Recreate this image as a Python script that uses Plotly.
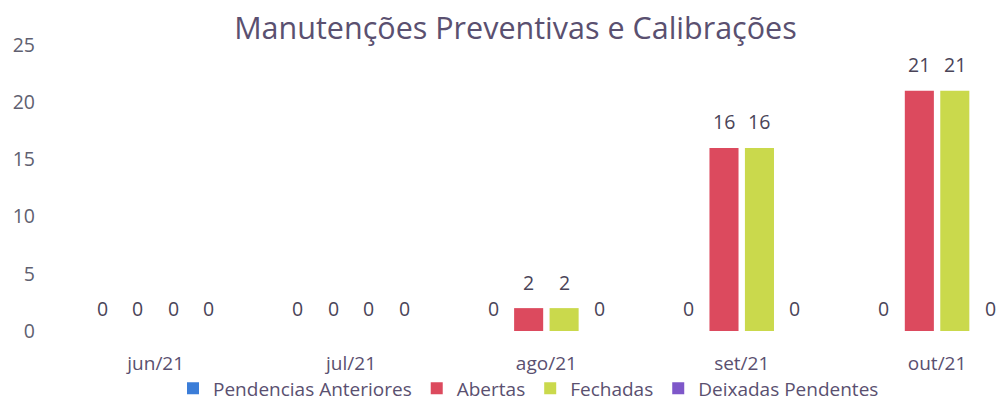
import plotly.graph_objects as go

categories = ["jun/21", "jul/21", "ago/21", "set/21", "out/21"]
series_names = ["Pendencias Anteriores", "Abertas", "Fechadas", "Deixadas Pendentes"]
pendencias = [0, 0, 0, 0, 0]
abertas = [0, 0, 2, 16, 21]
fechadas = [0, 0, 2, 16, 21]
deixadas = [0, 0, 0, 0, 0]
colors = ["#3b7dd8", "#dc4a5e", "#cad94c", "#7e57c9"]

values = [pendencias, abertas, fechadas, deixadas]

FONT = "Open Sans"
FS = 19.5
fig = go.Figure()
for name, vals, col in zip(series_names, values, colors):
    fig.add_trace(go.Bar(name=name, x=categories, y=vals, marker=dict(color=col, line=dict(width=0))))

# plot geometry for label placement
left, right_px = 58, 999
xr = [-0.5, 4.317]
px_per_cat = (right_px - left) / (xr[1] - xr[0])
bargap = 0.274
slot = px_per_cat * (1 - bargap) / 4

annotations = []
for i, vals in enumerate(values):
    for c, v in zip(categories, vals):
        annotations.append(dict(
            x=c, y=v, xref="x", yref="y", text=str(v), showarrow=False,
            xshift=(i - 1.5) * slot, yshift=26 if v else 23, yanchor="middle",
            font=dict(family=FONT, size=FS, color="#4a4458")))

fig.update_layout(
    width=999, height=401,
    margin=dict(l=left, r=0, t=45, b=70, autoexpand=False),
    paper_bgcolor="white", plot_bgcolor="white",
    barmode="group", bargap=bargap, bargroupgap=0.18,
    title=dict(text="Manutenções Preventivas e Calibrações", x=0.516, xanchor="center",
               y=1 - 28 / 401, yanchor="middle", yref="container", automargin=False,
               font=dict(family=FONT, size=30.5, color="#5a5070")),
    xaxis=dict(range=xr, showgrid=False, showline=False, zeroline=False, ticks="",
               ticklabelstandoff=19, automargin=False,
               tickfont=dict(family=FONT, size=19, color="#5a5070")),
    yaxis=dict(range=[0, 25], dtick=5, showgrid=False, showline=False, zeroline=False,
               ticks="", ticklabelstandoff=22, automargin=False,
               tickfont=dict(family=FONT, size=FS, color="#606070")),
    legend=dict(orientation="h", x=0.5, xanchor="center", y=0.079, yanchor="top",
                yref="container", bgcolor="rgba(0,0,0,0)",
                font=dict(family=FONT, size=19, color="#5a5070"),
                itemwidth=30, tracegroupgap=0),
    annotations=annotations,
    showlegend=True,
)

fig.write_html("out.html", config={"displayModeBar": False},
               post_script="document.body.style.margin='0';document.body.style.overflow='hidden';")
